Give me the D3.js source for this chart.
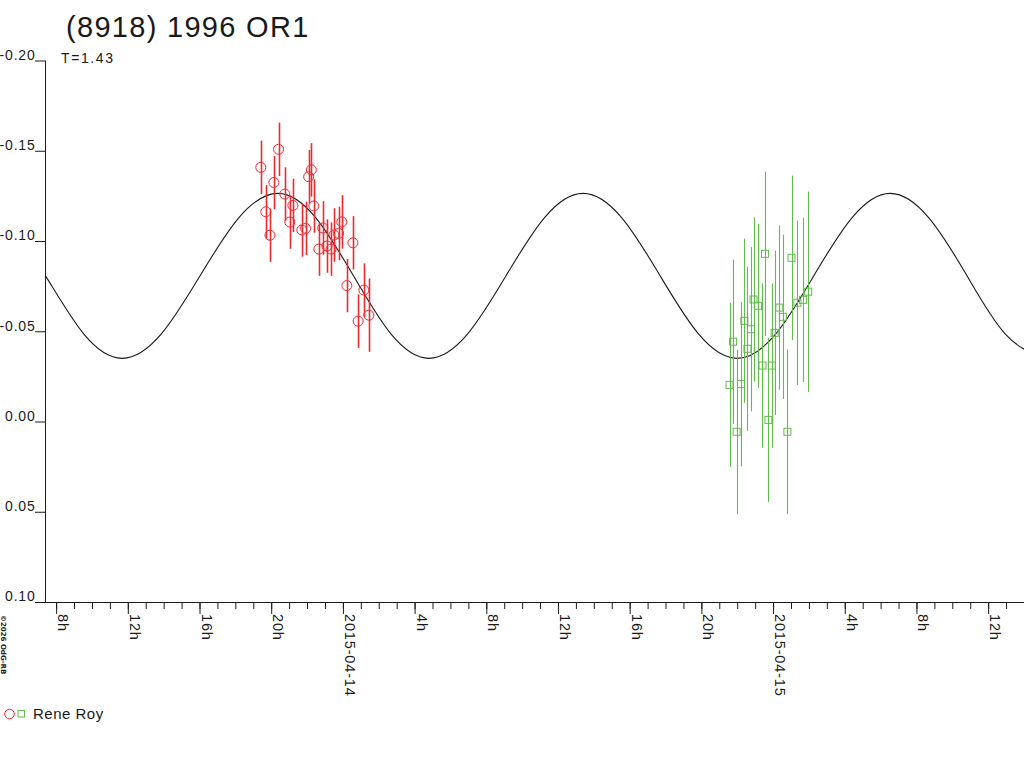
<!DOCTYPE html>
<html>
<head>
<meta charset="utf-8">
<script src="https://cdn.jsdelivr.net/npm/d3@7"></script>
<style>
  html, body { margin: 0; padding: 0; background: #fff; }
  svg { display: block; font-family: "Liberation Sans", Arial, sans-serif; }
</style>
</head>
<body>
<svg id="chart" width="1024" height="768"></svg>
<script>
// ---- data (hours from 2015-04-13 00:00 UT, relative magnitude) ----
const title = "(8918) 1996 OR1";
const subtitle = "T=1.43";
const observer = "Rene Roy";
const credit = "\u00a92026 OdG-RB";

const redHours = [19.42, 19.70, 19.93, 20.15, 20.41, 20.76, 21.04, 21.21, 21.71, 21.92,
                  22.09, 22.24, 22.38, 22.66, 22.88, 23.11, 23.34, 23.50, 23.76, 23.94,
                  24.22, 24.56, 24.85, 25.17, 25.45];
const redMags  = [-0.1408, -0.1162, -0.1032, -0.1324, -0.1508, -0.1260, -0.1105, -0.1197, -0.1061, -0.1070,
                  -0.1356, -0.1394, -0.1194, -0.0955, -0.1072, -0.0972, -0.0955, -0.1033, -0.1042, -0.1106,
                  -0.0753, -0.0990, -0.0556, -0.0728, -0.0589];
const redErrs  = [0.0148, 0.0148, 0.0148, 0.0148, 0.0148, 0.0148, 0.0148, 0.0148, 0.0148, 0.0148,
                  0.0148, 0.0148, 0.0148, 0.0148, 0.0148, 0.0148, 0.0148, 0.0148, 0.0148, 0.0148,
                  0.0148, 0.0148, 0.0148, 0.0148, 0.0203];

const greenHours = [45.57, 45.77, 45.97, 46.21, 46.40, 46.57, 46.77, 46.91, 47.16, 47.41,
                    47.55, 47.74, 47.93, 48.09, 48.35, 48.55, 48.80, 49.03, 49.36, 49.67, 49.96];
const greenMags  = [-0.0203, -0.0442, 0.0057, -0.0207, -0.0558, -0.0403, -0.0511, -0.0676, -0.0641, -0.0310,
                    -0.0929, -0.0009, -0.0310, -0.0491, -0.0631, -0.0580, 0.0057, -0.0907, -0.0658, -0.0674, -0.0719];
const greenErrs  = [0.0455, 0.0455, 0.0455, 0.0455, 0.0455, 0.0455, 0.0455, 0.0455, 0.0455, 0.0455,
                    0.0455, 0.0455, 0.0455, 0.0455, 0.0455, 0.0455, 0.0455, 0.0455, 0.0455, 0.0455, 0.0555];

// fitted light curve
const curveHours = [5.27, 7.41, 9.55, 11.69, 13.86, 16.03, 18.20, 20.37, 22.48, 24.59,
                    26.69, 28.80, 30.95, 33.10, 35.25, 37.40, 39.55, 41.70, 43.85, 46.00,
                    48.14, 50.27, 52.41, 54.54, 56.68, 58.82, 60.96, 63.10];
const curveMags  = [-0.1130, -0.0807, -0.0484, -0.0350, -0.0484, -0.0807, -0.1130, -0.1264, -0.1130, -0.0807,
                    -0.0484, -0.0350, -0.0484, -0.0807, -0.1130, -0.1264, -0.1130, -0.0807, -0.0484, -0.0350,
                    -0.0484, -0.0807, -0.1130, -0.1264, -0.1130, -0.0807, -0.0484, -0.0350];

const yTickValues = [-0.20, -0.15, -0.10, -0.05, 0.00, 0.05, 0.10];
const yTickLabels = ["-0.20", "-0.15", "-0.10", "-0.05", "0.00", "0.05", "0.10"];
const majorTickHours  = [8, 12, 16, 20, 24, 28, 32, 36, 40, 44, 48, 52, 56, 60];
const majorTickLabels = ["8h", "12h", "16h", "20h", "2015-04-14", "4h", "8h", "12h", "16h", "20h", "2015-04-15", "4h", "8h", "12h"];
const minorTickHours  = d3.range(8, 63, 1);
const timeDomain = [7.38, 62.0];
const magDomain = [-0.20, 0.10];

// ---- layout ----
const plotLeft = 45, plotRight = 1024, plotTop = 60.5, plotBottom = 602;
const svg = d3.select("#chart");
const x = d3.scaleLinear().domain(timeDomain).range([plotLeft, plotRight]);
const y = d3.scaleLinear().domain(magDomain).range([plotTop, plotBottom]);
const ink = "#1a1a1a";
const red = "#ec2a30";
const green = "#62bb4c";
const fontFam = "Liberation Sans, Arial, sans-serif";

svg.append("defs").append("clipPath").attr("id", "plotclip")
  .append("rect").attr("x", plotLeft).attr("y", plotTop - 5)
  .attr("width", plotRight - plotLeft).attr("height", plotBottom - plotTop + 5);

// title
svg.append("text").attr("x", 66).attr("y", 37).attr("font-size", 29)
  .attr("letter-spacing", 1.3).attr("fill", ink).text(title);
svg.append("text").attr("x", 61).attr("y", 63).attr("font-size", 14)
  .attr("letter-spacing", 1.6).attr("fill", ink).text(subtitle);

// y axis
const yAxis = d3.axisLeft(y).tickValues(yTickValues).tickSize(10).tickSizeOuter(0)
  .tickFormat((d, i) => yTickLabels[i]);
const gy = svg.append("g").attr("transform", `translate(${plotLeft},0)`).call(yAxis);
gy.select(".domain").attr("stroke", ink).attr("d", `M0.5,${plotTop}V${plotBottom}`);
gy.selectAll(".tick line").attr("stroke", ink).attr("x1", -10).attr("x2", 0);
gy.selectAll(".tick text").attr("font-family", fontFam).attr("font-size", 14)
  .attr("letter-spacing", 0.8)
  .attr("fill", ink).attr("x", -9.5).attr("dy", "-0.08em");

// x axis: minor ticks
const xMinor = d3.axisBottom(x).tickValues(minorTickHours).tickSize(7).tickSizeOuter(0).tickFormat("");
const gxm = svg.append("g").attr("transform", `translate(0,${plotBottom})`).call(xMinor);
gxm.select(".domain").attr("stroke", ink).attr("d", `M${plotLeft},0.5H${plotRight}`);
gxm.selectAll(".tick line").attr("stroke", ink);

// x axis: major ticks + rotated labels
const xMajor = d3.axisBottom(x).tickValues(majorTickHours).tickSize(12).tickSizeOuter(0)
  .tickFormat((d, i) => majorTickLabels[i]);
const gx = svg.append("g").attr("transform", `translate(0,${plotBottom})`).call(xMajor);
gx.select(".domain").remove();
gx.selectAll(".tick line").attr("stroke", ink);
gx.selectAll(".tick text")
  .attr("font-family", fontFam).attr("font-size", 14.5).attr("fill", ink)
  .attr("letter-spacing", 0.85)
  .attr("x", 0).attr("y", 0).attr("dy", null)
  .attr("text-anchor", "start")
  .attr("transform", "translate(1.5,12) rotate(90)");

// fitted curve
const line = d3.line().x((d, i) => x(curveHours[i])).y((d, i) => y(curveMags[i])).curve(d3.curveNatural);
svg.append("path").datum(curveHours).attr("clip-path", "url(#plotclip)")
  .attr("d", line).attr("fill", "none").attr("stroke", ink).attr("stroke-width", 1.1);

// red series
const gRed = svg.append("g");
gRed.selectAll("line").data(redHours).join("line")
  .attr("x1", d => Math.round(x(d)) + 0.5).attr("x2", d => Math.round(x(d)) + 0.5)
  .attr("y1", (d, i) => y(redMags[i] - redErrs[i])).attr("y2", (d, i) => y(redMags[i] + redErrs[i]))
  .attr("stroke", red).attr("stroke-width", 1.6);
gRed.selectAll("circle").data(redHours).join("circle")
  .attr("cx", d => x(d)).attr("cy", (d, i) => y(redMags[i])).attr("r", 5)
  .attr("fill", "none").attr("stroke", red).attr("stroke-width", 1);

// green series
const gGreen = svg.append("g");
gGreen.selectAll("line").data(greenHours).join("line")
  .attr("x1", d => Math.round(x(d)) + 0.5).attr("x2", d => Math.round(x(d)) + 0.5)
  .attr("y1", (d, i) => y(greenMags[i] - greenErrs[i])).attr("y2", (d, i) => y(greenMags[i] + greenErrs[i]))
  .attr("stroke", green).attr("stroke-width", 1.1);
gGreen.selectAll("rect").data(greenHours).join("rect")
  .attr("x", d => x(d) - 3.5).attr("y", (d, i) => y(greenMags[i]) - 3.5)
  .attr("width", 7).attr("height", 7)
  .attr("fill", "none").attr("stroke", green).attr("stroke-width", 1);

// legend
svg.append("circle").attr("cx", 9.5).attr("cy", 714).attr("r", 4.8)
  .attr("fill", "none").attr("stroke", red).attr("stroke-width", 1);
svg.append("rect").attr("x", 18).attr("y", 710.5).attr("width", 6.5).attr("height", 6.5)
  .attr("fill", "none").attr("stroke", green).attr("stroke-width", 1);
svg.append("text").attr("x", 33).attr("y", 718.5).attr("font-size", 15)
  .attr("letter-spacing", 0.5).attr("fill", ink).text(observer);

// credit
svg.append("text").attr("transform", "translate(1,615) rotate(90)")
  .attr("font-family", "DejaVu Sans, sans-serif")
  .attr("font-size", 7).attr("font-weight", "bold").attr("fill", ink).text(credit);
</script>
</body>
</html>
